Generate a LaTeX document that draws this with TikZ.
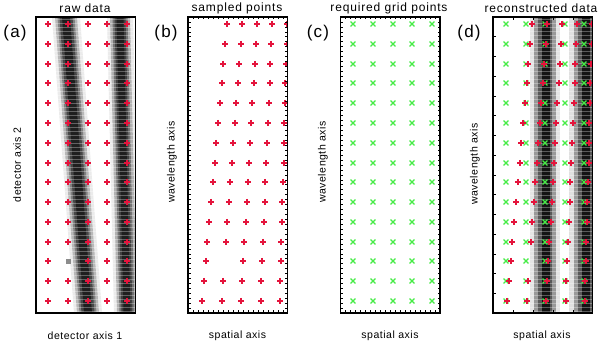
\documentclass[tikz,border=0pt]{standalone}
\usepackage{fontspec}
\setmainfont{Liberation Sans}
\newfontfamily\lblfont[LetterSpace=7]{Liberation Sans}
\newfontfamily\axfont[LetterSpace=5]{Liberation Sans}
\definecolor{mkred}{RGB}{228,20,60}
\definecolor{mkgrn}{RGB}{70,235,70}
\tikzset{
 lbl/.style={font=\lblfont\fontsize{12}{14}\selectfont, inner sep=0pt},
 axl/.style={font=\axfont\fontsize{10.5}{12}\selectfont, inner sep=0pt},
 panlbl/.style={font=\lblfont\fontsize{17}{19}\selectfont, inner sep=0pt},
 framebox/.style={draw=black, line width=1.2pt},
 redmk/.style={draw=mkred, line width=1.1pt},
 grnmk/.style={draw=mkgrn, line width=1.1pt},
 tk/.style={draw=black, line width=0.5pt},
 pixline/.style={draw=white, opacity=0.3, line width=0.5pt},
}
\newcommand\mystripe[4]{\fill[#4] (#1-#3,17) -- (#1+#3,17) -- (#2+#3,313) -- (#2-#3,313) -- cycle;}
\newcommand\rplus[2]{\draw[redmk] (#1-3,#2) -- (#1+3,#2) (#1,#2-3) -- (#1,#2+3);}
\newcommand\gcross[2]{\draw[grnmk] (#1-2.4,#2-2.4) -- (#1+2.4,#2+2.4) (#1-2.4,#2+2.4) -- (#1+2.4,#2-2.4);}
\begin{document}
\begin{tikzpicture}[x=1pt,y=-1pt]
\useasboundingbox (0,0) rectangle (600,344);
\fill[white] (0,0) rectangle (600,344);

% ---------------- panel (a)
\begin{scope}
\clip (36,17) rectangle (135.5,313);
\mystripe{66}{88}{14}{black!8}
\mystripe{66}{88}{11}{black!28}
\mystripe{66}{88}{8.5}{black!50}
\mystripe{66}{88}{6.5}{black!72}
\mystripe{66}{88}{4}{black!88}
\mystripe{120}{127}{13}{black!8}
\mystripe{120}{127}{10}{black!30}
\mystripe{120}{127}{7.5}{black!55}
\mystripe{120}{127}{5.5}{black!75}
\mystripe{120}{127}{3.5}{black!88}
\foreach \yy in {19,23,...,311} {\draw[pixline] (36,\yy) -- (135.5,\yy);}
\end{scope}
\fill[black!45] (66,259) rectangle (71,264);
\foreach \k in {0,...,14} {
  \ifnum\k=12 \def\ilist{0,2,3,4}\else\def\ilist{0,1,2,3,4}\fi
  \foreach \i in \ilist {
    \pgfmathsetmacro\px{round(48+19.75*\i)}
    \pgfmathsetmacro\py{round(24+19.786*\k)}
    \rplus{\px}{\py}
  }
}
\draw[framebox] (36,17) rectangle (135.5,313);

% ---------------- panel (b)
\begin{scope}
\clip (188,17) rectangle (287.5,313);
\foreach \k in {0,...,14} {
  \ifnum\k=12 \def\ilist{0,2,3,4}\else\def\ilist{0,1,2,3,4}\fi
  \foreach \i in \ilist {
    \pgfmathsetmacro\px{round(227-25*\k/14+\i*(15+4.5*\k/14))}
    \pgfmathsetmacro\py{round(24+19.786*\k)}
    \rplus{\px}{\py}
  }
}
\end{scope}
\foreach \xx in {193,198,...,283} {\draw[tk] (\xx,17) -- (\xx,19.5); \draw[tk] (\xx,313) -- (\xx,310.5);}
\foreach \j in {1,...,59} {\draw[tk] (188,{17+\j*4.9333}) -- (190.5,{17+\j*4.9333}); \draw[tk] (287.5,{17+\j*4.9333}) -- (285,{17+\j*4.9333});}
\draw[framebox] (188,17) rectangle (287.5,313);

% ---------------- panel (c)
\foreach \k in {0,...,14} {
  \foreach \i in {0,...,4} {
    \pgfmathsetmacro\px{round(353+19.75*\i)}
    \pgfmathsetmacro\py{round(24+19.786*\k)}
    \gcross{\px}{\py}
  }
}
\foreach \xx in {345.5,350.5,...,435.5} {\draw[tk] (\xx,17) -- (\xx,19.5); \draw[tk] (\xx,313) -- (\xx,310.5);}
\foreach \j in {1,...,59} {\draw[tk] (340.5,{17+\j*4.9333}) -- (343,{17+\j*4.9333}); \draw[tk] (440,{17+\j*4.9333}) -- (437.5,{17+\j*4.9333});}
\draw[framebox] (340.5,17) rectangle (440,313);

% ---------------- panel (d)
\begin{scope}
\clip (493,17) rectangle (592.5,313);
\fill[black!10] (530,17) rectangle (560,313);
\fill[black!40] (534,17) rectangle (556,313);
\fill[black!65] (538,17) rectangle (552,313);
\fill[black!92] (541.5,17) rectangle (549.5,313);
\fill[black!12] (569,17) rectangle (593,313);
\fill[black!40] (574,17) rectangle (593,313);
\fill[black!65] (578,17) rectangle (592,313);
\fill[black!92] (581.5,17) rectangle (589.5,313);
\foreach \yy in {19,23,...,311} {\draw[pixline] (493,\yy) -- (592.5,\yy);}
\foreach \k in {0,...,14} {
  \foreach \i in {0,...,4} {
    \pgfmathsetmacro\px{round(506+19.5*\i)}
    \pgfmathsetmacro\py{round(24+19.786*\k)}
    \gcross{\px}{\py}
  }
}
\foreach \k in {0,...,14} {
  \ifnum\k=12 \def\ilist{0,2,3,4}\else\def\ilist{0,1,2,3,4}\fi
  \foreach \i in \ilist {
    \pgfmathsetmacro\px{round(532-25*\k/14+\i*(15+4.5*\k/14))}
    \pgfmathsetmacro\py{round(24+19.786*\k)}
    \rplus{\px}{\py}
  }
}
\end{scope}
\foreach \xx in {513,533,...,573} {\draw[tk] (\xx,17) -- (\xx,20); \draw[tk] (\xx,313) -- (\xx,310);}
\foreach \j in {1,...,14} {\draw[tk] (493,{17+\j*19.7333}) -- (496,{17+\j*19.7333});}
\draw[framebox] (493,17) rectangle (592.5,313);

% ---------------- labels
\node[lbl] (ta) at (85,8) {raw data};
\node[lbl] (tb) at (237,8) {sampled points};
\node[lbl] (tc) at (389,8) {required grid points};
\node[lbl] (td) at (541,8) {reconstructed data};
\node[panlbl] (pa) at (15,33) {(a)};
\node[panlbl] (pb) at (166,33) {(b)};
\node[panlbl] (pc) at (318,33) {(c)};
\node[panlbl] (pd) at (469,33) {(d)};
\node[axl] (xa) at (85,336) {detector axis 1};
\node[axl] (xb) at (237.5,336) {spatial axis};
\node[axl] (xc) at (390,336) {spatial axis};
\node[axl] (xd) at (542,336) {spatial axis};
\node[axl, rotate=90] (ya) at (17,165) {detector axis 2};
\node[axl, rotate=90] (yb) at (172,162) {wavelength axis};
\node[axl, rotate=90] (yc) at (323,162) {wavelength axis};
\node[axl, rotate=90] (yd) at (475,164) {wavelength axis};
\end{tikzpicture}
\end{document}
